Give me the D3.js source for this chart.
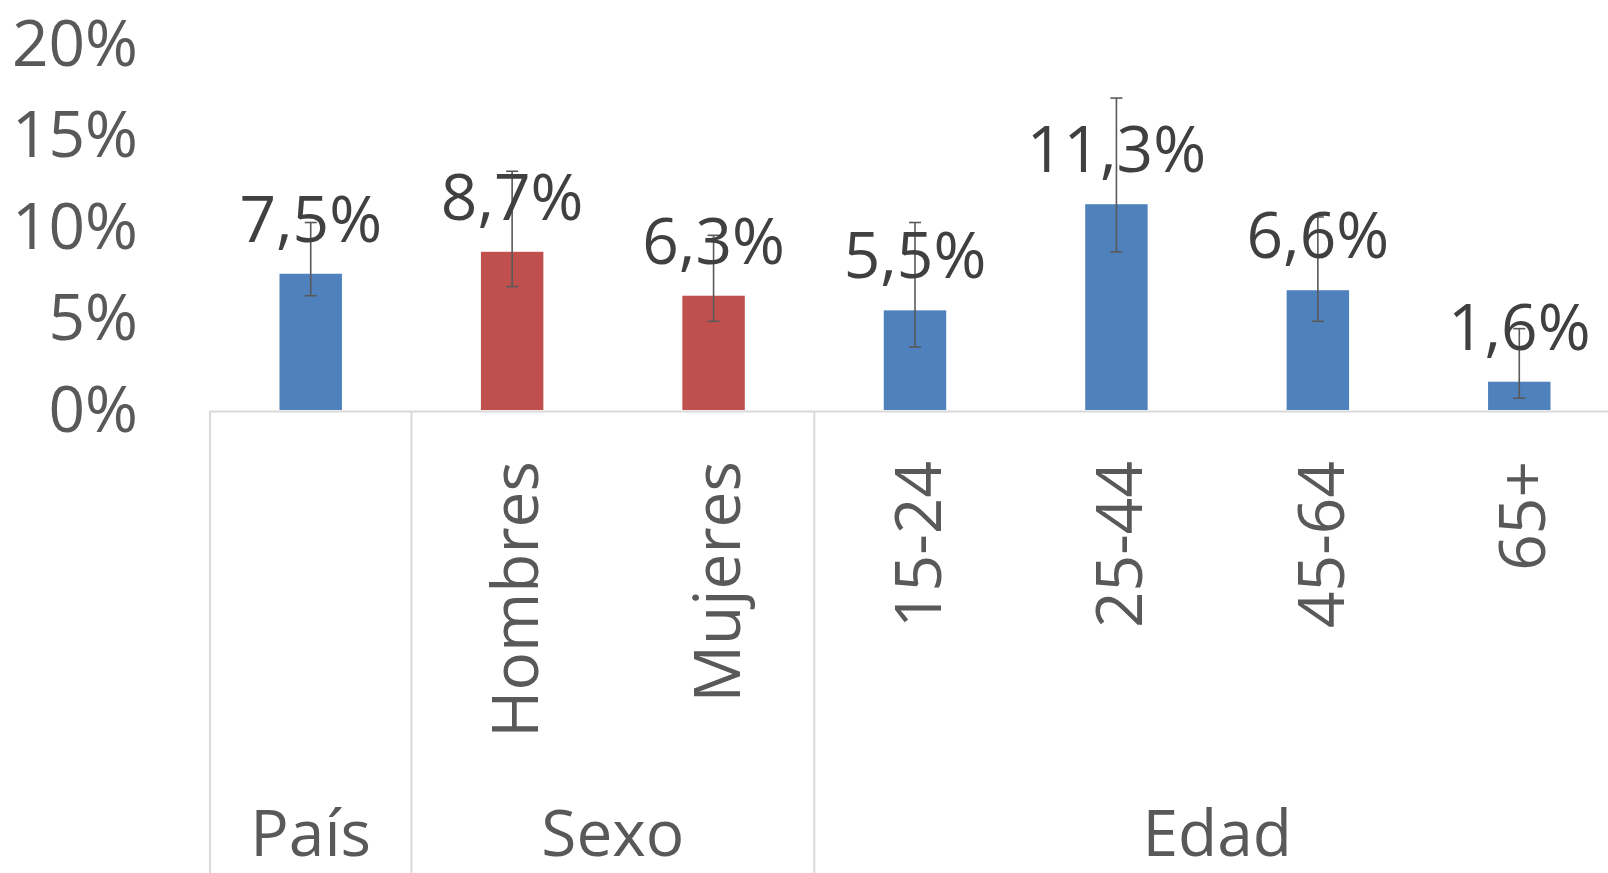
<!DOCTYPE html>
<html>
<head>
<meta charset="utf-8">
<script src="https://cdn.jsdelivr.net/npm/d3@7"></script>
<style>
  html, body { margin: 0; padding: 0; background: #fff; }
  svg { display: block; }
</style>
</head>
<body>
<svg id="chart" width="1608" height="873"></svg>
<script>
// ---- data ----
const categories = ["País", "Hombres", "Mujeres", "15-24", "25-44", "45-64", "65+"];
const groups = ["País", "Sexo", "Sexo", "Edad", "Edad", "Edad", "Edad"];
const showCategoryLabel = [false, true, true, true, true, true, true];
const values = [7.5, 8.7, 6.3, 5.5, 11.3, 6.6, 1.6];
const errLow = [6.3, 6.8, 4.9, 3.5, 8.7, 4.9, 0.7];
const errHigh = [10.3, 13.1, 9.6, 10.3, 17.1, 10.6, 4.5];
const valueLabels = ["7,5%", "8,7%", "6,3%", "5,5%", "11,3%", "6,6%", "1,6%"];
const seriesColor = ["blue", "red", "red", "blue", "blue", "blue", "blue"];
const yTicks = [0, 5, 10, 15, 20];
const groupNames = ["País", "Sexo", "Edad"];

const palette = { blue: "#4F81BD", red: "#C0504D" };
const FONT = "'Open Sans', 'Noto Sans', sans-serif";

const svg = d3.select("#chart");
const W = 1608, H = 873;
const left = 210, right = 1620;
const y0 = 411, yTop = 45;

const x = d3.scaleBand().domain(categories).range([left, right]).paddingInner(0).paddingOuter(0);
const y = d3.scaleLinear().domain([0, 20]).range([y0, yTop]);
const barW = x.bandwidth() * 0.31;

// y axis labels
const yAxis = d3.axisLeft(y).tickValues(yTicks).tickFormat(d => d + "%").tickSize(0).tickPadding(12);
const ya = svg.append("g").attr("transform", "translate(150,0)").call(yAxis);
ya.select(".domain").remove();
ya.selectAll("text")
  .attr("font-family", FONT).attr("font-size", 64).attr("fill", "#595959");

// bars
svg.append("g").selectAll("rect").data(categories).join("rect")
  .attr("x", (d) => x(d) + (x.bandwidth() - barW) / 2)
  .attr("y", (d, i) => y(values[i]))
  .attr("width", barW)
  .attr("height", (d, i) => y(0) - y(values[i]) - 1)
  .attr("fill", (d, i) => palette[seriesColor[i]]);

// axis line
svg.append("line").attr("x1", left).attr("x2", W).attr("y1", y0 + 0.5).attr("y2", y0 + 0.5)
  .attr("stroke", "#D9D9D9").attr("stroke-width", 2);

// group separators
const boundaries = [];
groups.forEach((g, i) => { if (i === 0 || groups[i - 1] !== g) boundaries.push(x(categories[i])); });
boundaries.push(right);
svg.append("g").selectAll("line").data(boundaries).join("line")
  .attr("x1", d => d).attr("x2", d => d)
  .attr("y1", y0).attr("y2", H)
  .attr("stroke", "#D9D9D9").attr("stroke-width", 2);

// error bars
const eb = svg.append("g").attr("stroke", "#595959").attr("stroke-width", 1.6);
categories.forEach((c, i) => {
  const cx = x(c) + x.bandwidth() / 2;
  eb.append("line").attr("x1", cx).attr("x2", cx).attr("y1", y(errLow[i])).attr("y2", y(errHigh[i]));
  eb.append("line").attr("x1", cx - 6).attr("x2", cx + 6).attr("y1", y(errLow[i])).attr("y2", y(errLow[i]));
  eb.append("line").attr("x1", cx - 6).attr("x2", cx + 6).attr("y1", y(errHigh[i])).attr("y2", y(errHigh[i]));
});

// data labels
svg.append("g").selectAll("text").data(categories).join("text")
  .attr("x", d => x(d) + x.bandwidth() / 2)
  .attr("y", (d, i) => y(values[i]) - 32)
  .attr("text-anchor", "middle")
  .attr("font-family", FONT).attr("font-size", 64).attr("fill", "#404040")
  .text((d, i) => valueLabels[i]);

// rotated category labels
svg.append("g").selectAll("text").data(categories.filter((d, i) => showCategoryLabel[i])).join("text")
  .attr("transform", d => `translate(${x(d) + x.bandwidth() / 2 + 26},461) rotate(-90)`)
  .attr("text-anchor", "end")
  .attr("font-family", FONT).attr("font-size", 64).attr("fill", "#595959")
  .text(d => d);

// group labels
const groupCenters = groupNames.map(g => {
  const idx = categories.map((c, i) => i).filter(i => groups[i] === g);
  const a = x(categories[idx[0]]);
  const b = x(categories[idx[idx.length - 1]]) + x.bandwidth();
  return { g, cx: (a + b) / 2 };
});
svg.append("g").selectAll("text").data(groupCenters).join("text")
  .attr("x", d => d.cx).attr("y", 856)
  .attr("text-anchor", "middle")
  .attr("font-family", FONT).attr("font-size", 64).attr("fill", "#595959")
  .text(d => d.g);
</script>
</body>
</html>
